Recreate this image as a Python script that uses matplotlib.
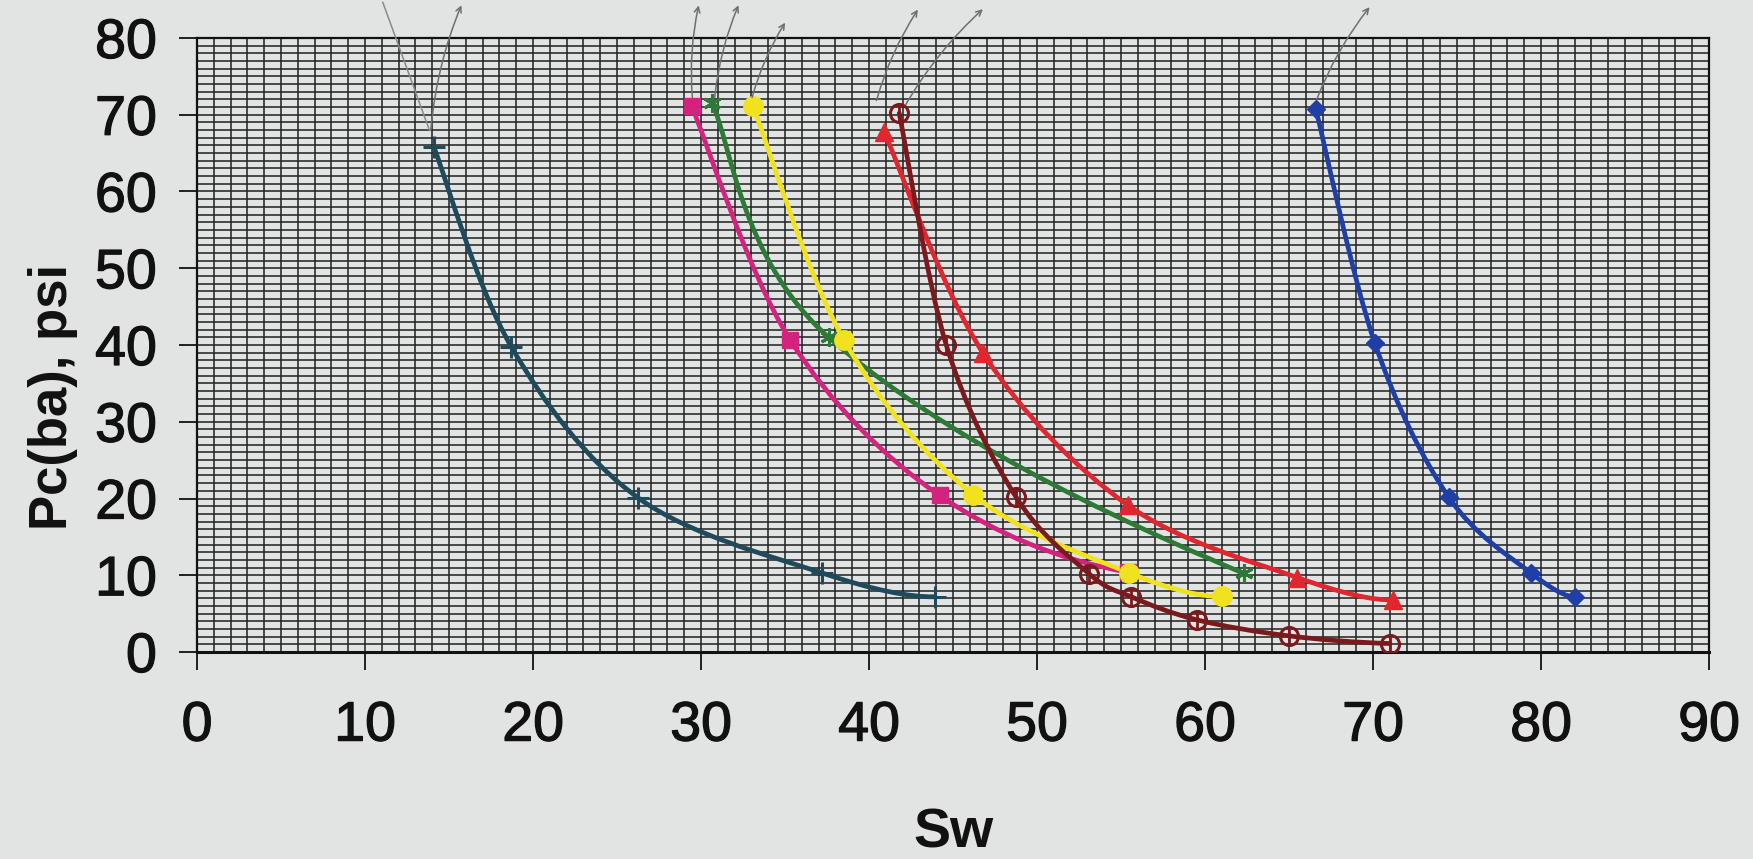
"""Capillary pressure curves Pc(ba) vs Sw, redrawn on a 1-unit grid."""
import numpy as np
import matplotlib
matplotlib.use("Agg")
import matplotlib.pyplot as plt
import matplotlib.patheffects as pe
from matplotlib.path import Path
from matplotlib.patches import PathPatch
from matplotlib.ticker import MultipleLocator

plt.rcParams['font.family'] = ['Liberation Sans', 'DejaVu Sans']

# data (Sw %, Pc psi)
teal_sw = [14.1, 18.7, 26.25, 37.2, 43.9]
teal_pc = [65.8, 39.8, 20.1, 10.3, 7.2]
magenta_sw = [29.45, 35.3, 44.2, 55.4]
magenta_pc = [71.1, 40.7, 20.4, 10.4]
green_sw = [30.65, 37.6, 62.3]
green_pc = [71.5, 41.0, 10.25]
yellow_sw = [33.1, 38.5, 46.2, 55.5, 61.0]
yellow_pc = [71.1, 40.7, 20.5, 10.3, 7.3]
brown_sw = [41.8, 44.6, 48.75, 53.1, 55.6, 59.5, 65.0, 71.0]
brown_pc = [70.2, 40.0, 20.2, 10.2, 7.2, 4.2, 2.1, 1.1]
red_sw = [40.9, 46.8, 55.4, 65.5, 71.2]
red_pc = [67.8, 38.9, 19.15, 9.7, 6.8]
blue_sw = [66.6, 70.1, 74.5, 79.4, 82.05]
blue_pc = [70.7, 40.3, 20.2, 10.3, 7.2]

x_ticks = list(range(0, 91, 10))
y_ticks = list(range(0, 81, 10))

# pencil arrows scribbled above the chart: (tail sw, tail pc, head sw, head pc)
pencil_arrows = [
    (13.9, 67.6, 15.8, 84.6),
    (29.5, 71.9, 29.9, 84.6),
    (30.8, 71.9, 32.3, 84.6),
    (33.0, 71.9, 35.1, 82.3),
    (40.4, 71.5, 43.0, 84.0),
    (42.1, 71.0, 46.9, 84.0),
    (66.6, 71.7, 69.9, 84.3),
]

paper = '#e1e4e3'
ink = '#111111'


def smooth_path(xs, ys):
    # smoothed line: catmull-rom tangents inside, chord at the start, parabolic at the end
    p = np.column_stack([xs, ys]).astype(float)
    n = len(p)
    tan = np.zeros_like(p)
    for i in range(1, n - 1):
        tan[i] = (p[i + 1] - p[i - 1]) / 2.0
    tan[0] = (p[1] - p[0]) / 2.0
    if n > 2:
        tan[-1] = (p[-3] - 4 * p[-2] + 3 * p[-1]) / 2.0
    else:
        tan[-1] = (p[-1] - p[-2]) / 2.0
    verts = [p[0]]
    codes = [Path.MOVETO]
    for i in range(n - 1):
        verts += [p[i] + tan[i] / 3.0, p[i + 1] - tan[i + 1] / 3.0, p[i + 1]]
        codes += [Path.CURVE4] * 3
    return Path(verts, codes)


fig = plt.figure(figsize=(17.53, 8.59), dpi=100, facecolor=paper)
ax = fig.add_axes([197 / 1753, 1 - 652 / 859, 1512 / 1753, 614 / 859])
ax.set_facecolor(paper)

ax.set_xlim(0, 90)
ax.set_ylim(0, 80)
ax.set_xticks(x_ticks)
ax.set_yticks(y_ticks)
ax.xaxis.set_minor_locator(MultipleLocator(1))
ax.yaxis.set_minor_locator(MultipleLocator(1))
ax.grid(True, which='both', color='#262626', lw=1.15)
ax.set_axisbelow(True)
ax.tick_params(which='minor', length=0)
ax.tick_params(which='major', direction='out', length=13, width=1.3, color=ink,
               labelsize=40, labelcolor=ink)
ax.tick_params(axis='x', pad=22)
ax.tick_params(axis='y', pad=16)
for lab in ax.get_xticklabels() + ax.get_yticklabels():
    lab.set_path_effects([pe.withStroke(linewidth=0.9, foreground=ink)])
for s in ax.spines.values():
    s.set_color(ink)
    s.set_linewidth(1.6)
ax.spines['bottom'].set_linewidth(2.2)

series = [
    (teal_sw, teal_pc, '#1f4a5c', dict(marker='+', ms=16, mew=2.2)),
    (magenta_sw, magenta_pc, '#d4237f', dict(marker='s', ms=11)),
    (green_sw, green_pc, '#2d7a36', dict(marker=(6, 2, 0), ms=13, mew=2.2)),
    (yellow_sw, yellow_pc, '#f0e21f', dict(marker='o', ms=14)),
    (red_sw, red_pc, '#e0262e', dict(marker='^', ms=13)),
    (brown_sw, brown_pc, '#7b1a1c', dict(marker='o', ms=13, mfc='none', mew=2.2)),
    (blue_sw, blue_pc, '#1f3fa6', dict(marker='D', ms=9)),
]

for sw, pc, col, mk in series:
    ax.add_patch(PathPatch(smooth_path(sw, pc), fill=False, edgecolor=col, lw=3.4,
                           capstyle='round', joinstyle='round', zorder=3))
    style = dict(mfc=col, mec=col)
    style.update(mk)
    ax.plot(sw, pc, linestyle='none', zorder=4, **style)

# maroon circles carry a bar through the middle
ax.plot(brown_sw, brown_pc, linestyle='none', marker='|', ms=15, mew=2, color='#7b1a1c', zorder=4)

for tx, ty, hx, hy in pencil_arrows:
    ax.annotate('', xy=(hx, hy), xytext=(tx, ty), annotation_clip=False,
                arrowprops=dict(arrowstyle='->', color='#6f6f6f', lw=1.1,
                                connectionstyle='arc3,rad=-0.08'), zorder=5)
ax.annotate('', xy=(13.9, 67.6), xytext=(11.0, 85.0), annotation_clip=False,
            arrowprops=dict(arrowstyle='-', color='#8a8a8a', lw=1.1), zorder=5)

ax.set_xlabel('Sw', fontsize=40, fontweight='bold', color=ink, va='baseline')
ax.xaxis.set_label_coords(0.5, (652 - 847) / 614)
ax.set_ylabel('Pc(ba), psi', fontsize=38, fontweight='bold', color=ink)
ax.yaxis.set_label_coords((78 - 197) / 1512, (652 - 397) / 614)

fig.savefig('out.png', dpi=100, facecolor=paper)
